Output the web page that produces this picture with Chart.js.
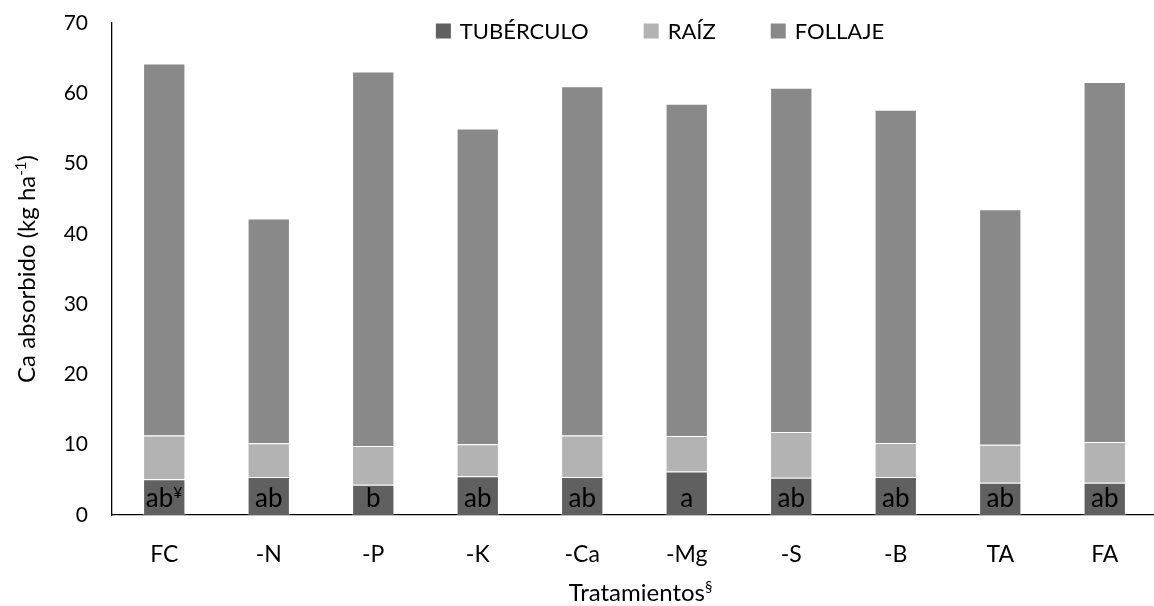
<!DOCTYPE html>
<html>
<head>
<meta charset="utf-8">
<script src="https://cdn.jsdelivr.net/npm/chart.js@4.4.0/dist/chart.umd.min.js"></script>
<style>
  html, body { margin: 0; padding: 0; overflow: hidden; background: #ffffff; }
  #wrap { width: 1157px; height: 606px; position: relative; }
</style>
</head>
<body>
<div id="wrap"><canvas id="c"></canvas></div>
<script>
// Calcium uptake (kg/ha) per treatment, split by plant organ
const categories = ['FC', '-N', '-P', '-K', '-Ca', '-Mg', '-S', '-B', 'TA', 'FA'];
const tuberculo = [5.1, 5.4, 4.3, 5.5, 5.4, 6.2, 5.3, 5.4, 4.6, 4.6];
const raiz      = [6.2, 4.8, 5.5, 4.55, 5.9, 5.05, 6.5, 4.85, 5.4, 5.8];
const follaje   = [52.95, 32.0, 53.3, 44.95, 49.7, 47.25, 49.0, 47.4, 33.5, 51.2];
const seriesNames = ['TUBÉRCULO', 'RAÍZ', 'FOLLAJE'];
const seriesColors = ['#606060', '#b3b3b3', '#898989'];
// Mean separation letters for the tuber fraction (with footnote mark)
const letters     = ['ab', 'ab', 'b', 'ab', 'ab', 'a', 'ab', 'ab', 'ab', 'ab'];
const letterMarks = ['¥', '', '', '', '', '', '', '', '', ''];
const yTicks = [0, 10, 20, 30, 40, 50, 60, 70];

const FONT = 'Lato, "Open Sans", sans-serif';

// Draws a run of text pieces, some of them as superscripts
function richWidth(ctx, parts, size) {
  let w = 0;
  parts.forEach(p => {
    ctx.font = (p.sup ? Math.round(size * 0.62) : size) + 'px ' + FONT;
    w += ctx.measureText(p.t).width;
  });
  return w;
}
function drawRich(ctx, parts, size, x, y) {
  let cx = x;
  ctx.textAlign = 'left';
  ctx.textBaseline = 'alphabetic';
  parts.forEach(p => {
    ctx.font = (p.sup ? Math.round(size * 0.62) : size) + 'px ' + FONT;
    ctx.fillText(p.t, cx, p.sup ? y - size * 0.36 : y);
    cx += ctx.measureText(p.t).width;
  });
}

const decorations = {
  id: 'decorations',
  afterDatasetsDraw(chart) {
    const ctx = chart.ctx;
    const area = chart.chartArea;
    const yScale = chart.scales.y;
    ctx.save();
    ctx.fillStyle = '#000000';

    // letters inside the tuber segment
    const meta = chart.getDatasetMeta(0);
    const base = yScale.getPixelForValue(0);
    meta.data.forEach((bar, i) => {
      const parts = [{ t: letters[i] }];
      if (letterMarks[i]) parts.push({ t: letterMarks[i], sup: true });
      const size = 26;
      const w = richWidth(ctx, parts, size);
      drawRich(ctx, parts, size, bar.x - w / 2, base - 8);
    });

    // legend across the top of the plot
    const lsize = 22;
    ctx.font = lsize + 'px ' + FONT;
    const box = 15, gapText = 9, gapItem = 55;
    const widths = seriesNames.map(n => box + gapText + ctx.measureText(n).width);
    const total = widths.reduce((a, b) => a + b, 0) + gapItem * (seriesNames.length - 1);
    let lx = 660 - total / 2;
    const ly = area.top + 8;
    seriesNames.forEach((n, i) => {
      ctx.fillStyle = seriesColors[i];
      ctx.fillRect(lx, ly - box / 2, box, box);
      ctx.fillStyle = '#000000';
      ctx.textAlign = 'left';
      ctx.textBaseline = 'middle';
      ctx.font = lsize + 'px ' + FONT;
      ctx.fillText(n, lx + box + gapText, ly + 1);
      lx += widths[i] + gapItem;
    });

    // axis titles
    const tsize = 24;
    const xParts = [{ t: 'Tratamientos' }, { t: '§', sup: true }];
    const xw = richWidth(ctx, xParts, tsize);
    drawRich(ctx, xParts, tsize, (area.left + area.right) / 2 + 6 - xw / 2, area.bottom + 86);

    const yParts = [{ t: 'Ca absorbido (kg ha' }, { t: '-1', sup: true }, { t: ')' }];
    const yw = richWidth(ctx, yParts, tsize);
    ctx.translate(35, (area.top + area.bottom) / 2);
    ctx.rotate(-Math.PI / 2);
    drawRich(ctx, yParts, tsize, -yw / 2, 0);
    ctx.restore();
  }
};

const mkSet = (label, data, color) => ({
  label, data,
  backgroundColor: color,
  borderColor: 'rgba(255,255,255,0.45)',
  borderWidth: 1,
  categoryPercentage: 1,
  barPercentage: 0.405
});

new Chart(document.getElementById('c'), {
  type: 'bar',
  data: {
    labels: categories,
    datasets: [
      mkSet(seriesNames[0], tuberculo, seriesColors[0]),
      mkSet(seriesNames[1], raiz, seriesColors[1]),
      mkSet(seriesNames[2], follaje, seriesColors[2])
    ]
  },
  options: {
    responsive: true,
    maintainAspectRatio: false,
    animation: false,
    layout: { padding: { top: 23, left: 0, right: 0, bottom: 0 } },
    plugins: { legend: { display: false }, tooltip: { enabled: false } },
    scales: {
      x: {
        stacked: true,
        grid: { display: false, drawTicks: false },
        border: { display: true, color: '#000000', width: 1.3 },
        ticks: { color: '#000000', font: { family: FONT, size: 23 }, padding: 26 },
        afterFit: s => { s.height = 91; }
      },
      y: {
        stacked: true,
        min: 0, max: 70,
        grid: { display: false, drawTicks: false },
        border: { display: true, color: '#000000', width: 1.3 },
        ticks: { color: '#000000', font: { family: FONT, size: 21 }, padding: 24 },
        afterBuildTicks: s => { s.ticks = yTicks.map(v => ({ value: v })); },
        afterFit: s => { s.width = 112; s.paddingTop = 0; s.paddingBottom = 0; }
      }
    }
  },
  plugins: [decorations]
});
</script>
</body>
</html>
